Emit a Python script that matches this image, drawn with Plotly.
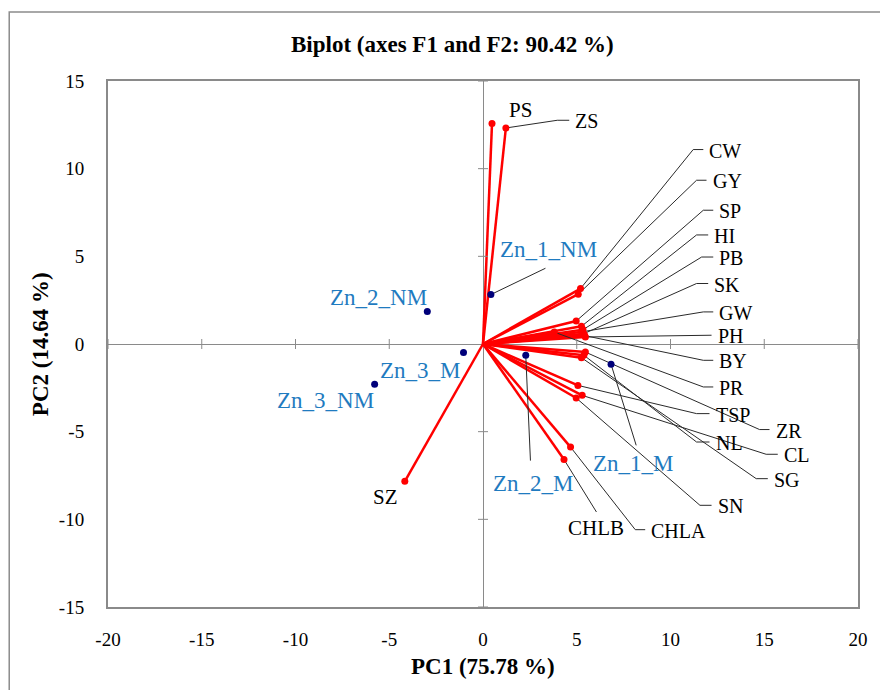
import plotly.graph_objects as go

# ---------------- data ----------------
var_names = ["PS", "ZS", "CW", "GY", "SP", "HI", "PB", "SK", "GW", "PH", "BY", "PR",
             "TSP", "ZR", "NL", "CL", "SG", "SN", "CHLA", "CHLB", "SZ"]
var_pc1 = [0.48, 1.22, 5.20, 5.08, 4.97, 5.25, 5.33, 5.38, 5.30, 5.46, 5.42, 3.80,
           5.06, 5.46, 5.38, 5.29, 5.25, 4.97, 4.67, 4.32, -4.17]
var_pc2 = [12.57, 12.32, 3.16, 2.84, 1.31, 1.01, 0.82, 0.59, 0.70, 0.40, 0.48, 0.68,
           -2.36, -0.46, -0.64, -2.93, -0.78, -3.08, -5.88, -6.59, -7.83]

obs_names = ["Zn_1_NM", "Zn_2_NM", "Zn_3_M", "Zn_3_NM", "Zn_2_M", "Zn_1_M"]
obs_pc1 = [0.42, -2.97, -1.04, -5.78, 2.28, 6.83]
obs_pc2 = [2.82, 1.85, -0.49, -2.30, -0.64, -1.16]

x_ticks = [-20, -15, -10, -5, 0, 5, 10, 15, 20]
y_ticks = [-15, -10, -5, 0, 5, 10, 15]

# ---------------- label layout (positions of labels / leader elbows) ----------------
# name: (elbow_x, elbow_y, horizontal_end_x)  -> text placed left-anchored after horizontal end
var_leader = {
    "ZS": (3.96, 12.76, 4.60),
    "CW": (11.21, 11.09, 11.75),
    "GY": (11.39, 9.34, 11.92),
    "SP": (11.75, 7.63, 12.28),
    "HI": (11.39, 6.22, 12.01),
    "PB": (11.66, 4.96, 12.28),
    "SK": (11.39, 3.45, 12.01),
    "GW": (11.75, 1.83, 12.28),
    "PH": (12.19, 0.50, 12.19),
    "BY": (11.75, -0.93, 12.28),
    "PR": (11.75, -2.45, 12.28),
    "TSP": (11.39, -3.97, 12.08),
    "ZR": (14.75, -4.88, 15.28),
    "NL": (11.39, -5.59, 12.08),
    "CL": (15.10, -6.29, 15.72),
    "SG": (14.57, -7.68, 15.19),
    "SN": (11.57, -9.20, 12.19),
    "CHLA": (8.12, -10.59, 8.65),
}
# free-standing (centered) variable labels; optional leader end
var_center = {
    "PS": (2.00, 13.33, None),
    "SZ": (-5.21, -8.74, None),
    "CHLB": (6.03, -10.50, (6.05, -9.58)),
}
obs_label = {
    "Zn_1_NM": (3.48, 5.40, (3.33, 4.32)),
    "Zn_2_NM": (-5.60, 2.66, None),
    "Zn_3_M": (-3.36, -1.50, None),
    "Zn_3_NM": (-8.40, -3.21, None),
    "Zn_2_M": (2.68, -7.95, (2.53, -6.65)),
    "Zn_1_M": (8.05, -6.80, (8.17, -5.78)),
}

FONT = "Liberation Serif, Times New Roman, serif"
GRAY = "#8a8a8a"
RED = "#FF0000"
NAVY = "#00007A"
BLUE = "#1F7BC0"

fig = go.Figure()

# red vectors
vx, vy = [], []
for a, b in zip(var_pc1, var_pc2):
    vx += [0, a, None]
    vy += [0, b, None]
fig.add_trace(go.Scatter(x=vx, y=vy, mode="lines", line=dict(color=RED, width=2.5),
                         hoverinfo="skip", showlegend=False))

# leader lines
lx, ly = [], []
pos = {n: (a, b) for n, a, b in zip(var_names, var_pc1, var_pc2)}
for n, (ex, ey, hx) in var_leader.items():
    px_, py_ = pos[n]
    lx += [px_, ex, hx, None]
    ly += [py_, ey, ey, None]
for n, (tx, ty, lead) in var_center.items():
    if lead is not None:
        px_, py_ = pos[n]
        lx += [px_, lead[0], None]
        ly += [py_, lead[1], None]
opos = {n: (a, b) for n, a, b in zip(obs_names, obs_pc1, obs_pc2)}
for n, (tx, ty, lead) in obs_label.items():
    if lead is not None:
        px_, py_ = opos[n]
        lx += [px_, lead[0], None]
        ly += [py_, lead[1], None]
fig.add_trace(go.Scatter(x=lx, y=ly, mode="lines", line=dict(color="#2a2a2a", width=1),
                         hoverinfo="skip", showlegend=False))

# endpoints
fig.add_trace(go.Scatter(x=var_pc1, y=var_pc2, mode="markers",
                         marker=dict(color=RED, size=7), showlegend=False, text=var_names))
# observations
fig.add_trace(go.Scatter(x=obs_pc1, y=obs_pc2, mode="markers",
                         marker=dict(color=NAVY, size=7), showlegend=False, text=obs_names))

annotations = []
for n, (ex, ey, hx) in var_leader.items():
    annotations.append(dict(x=hx, y=ey, text=n, showarrow=False, xanchor="left",
                            yanchor="middle", xshift=4, yshift=-1,
                            font=dict(family=FONT, size=20, color="black")))
for n, (tx, ty, lead) in var_center.items():
    annotations.append(dict(x=tx, y=ty, text=n, showarrow=False, xanchor="center",
                            yanchor="middle", font=dict(family=FONT, size=21, color="black")))
for n, (tx, ty, lead) in obs_label.items():
    annotations.append(dict(x=tx, y=ty, text=n, showarrow=False, xanchor="center",
                            yanchor="middle", font=dict(family=FONT, size=23, color=BLUE)))

# axis titles
annotations.append(dict(xref="paper", yref="paper", x=0.5, y=-0.113, text="<b>PC1 (75.78 %)</b>",
                        showarrow=False, xanchor="center", yanchor="middle",
                        font=dict(family=FONT, size=23, color="black")))
annotations.append(dict(xref="paper", yref="paper", x=-0.0905, y=0.5, text="<b>PC2 (14.64 %)</b>",
                        showarrow=False, xanchor="center", yanchor="middle", textangle=-90,
                        font=dict(family=FONT, size=23, color="black")))

# tick marks crossing the zero lines
shapes = []
for t in x_ticks:
    if t == 0:
        continue
    shapes.append(dict(type="line", xref="x", yref="y", x0=t, x1=t, ysizemode="pixel",
                       yanchor=0, y0=-5, y1=5, line=dict(color=GRAY, width=1)))
for t in y_ticks:
    if t == 0:
        continue
    shapes.append(dict(type="line", yref="y", xref="x", y0=t, y1=t, xsizemode="pixel",
                       xanchor=0, x0=-5, x1=5, line=dict(color=GRAY, width=1)))
# outer chart border
shapes.append(dict(type="rect", xref="paper", yref="paper", x0=-0.1317, x1=1.05,
                   y0=-0.2, y1=1.131, line=dict(color="#8c8c8c", width=1.5),
                   fillcolor="rgba(0,0,0,0)", layer="below"))

fig.update_layout(
    width=880, height=690,
    margin=dict(l=108, r=18, t=81, b=83),
    paper_bgcolor="white", plot_bgcolor="white",
    title=dict(text="<b>Biplot (axes F1 and F2: 90.42 %)</b>", xref="container", yref="container",
               x=0.514, y=0.936, xanchor="center", yanchor="middle",
               font=dict(family=FONT, size=23, color="black")),
    xaxis=dict(range=[-20, 20], tickvals=x_ticks, ticktext=[str(t) for t in x_ticks],
               showgrid=False, zeroline=True, zerolinecolor=GRAY, zerolinewidth=1,
               showline=True, linecolor=GRAY, linewidth=2, mirror=True, ticks="",
               ticklabelstandoff=14, tickfont=dict(family=FONT, size=19, color="black")),
    yaxis=dict(range=[-15, 15], tickvals=y_ticks, ticktext=[str(t) for t in y_ticks],
               showgrid=False, zeroline=True, zerolinecolor=GRAY, zerolinewidth=1,
               showline=True, linecolor=GRAY, linewidth=2, mirror=True, ticks="",
               ticklabelstandoff=18, tickfont=dict(family=FONT, size=19, color="black")),
    annotations=annotations, shapes=shapes, showlegend=False,
)

fig.write_html("out.html")
